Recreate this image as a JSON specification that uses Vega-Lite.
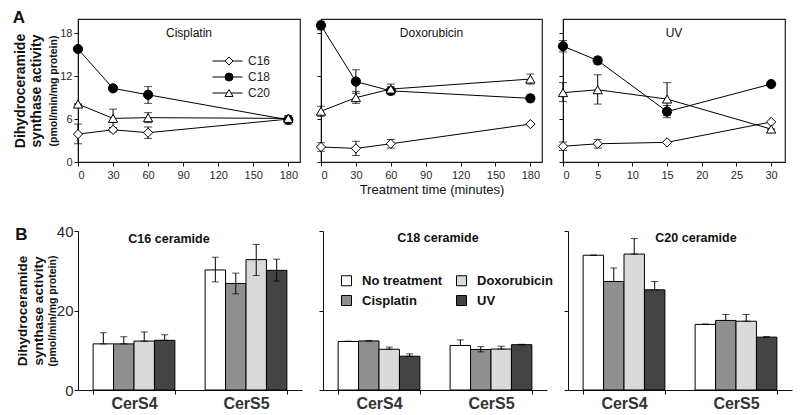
{
  "$schema": "https://vega.github.io/schema/vega-lite/v6.json",
  "padding": {"left": 12, "top": 9, "right": 5, "bottom": 0},
  "datasets": {
    "top": [
      {"d": "Cisplatin", "s": "C16", "t": 0, "v": 3.9, "lo": 2.55, "hi": 5.3},
      {"d": "Cisplatin", "s": "C16", "t": 30, "v": 4.5, "lo": 4.2, "hi": 4.8},
      {"d": "Cisplatin", "s": "C16", "t": 60, "v": 4.1, "lo": 3.3, "hi": 4.9},
      {"d": "Cisplatin", "s": "C16", "t": 180, "v": 6.0, "lo": 6.0, "hi": 6.0},
      {"d": "Cisplatin", "s": "C18", "t": 0, "v": 15.8, "lo": 15.8, "hi": 15.8},
      {"d": "Cisplatin", "s": "C18", "t": 30, "v": 10.3, "lo": 10.3, "hi": 10.3},
      {"d": "Cisplatin", "s": "C18", "t": 60, "v": 9.4, "lo": 8.2, "hi": 10.55},
      {"d": "Cisplatin", "s": "C18", "t": 180, "v": 5.9, "lo": 5.3, "hi": 6.5},
      {"d": "Cisplatin", "s": "C20", "t": 0, "v": 8.1, "lo": 8.1, "hi": 8.1},
      {"d": "Cisplatin", "s": "C20", "t": 30, "v": 6.1, "lo": 4.8, "hi": 7.4},
      {"d": "Cisplatin", "s": "C20", "t": 60, "v": 6.2, "lo": 5.5, "hi": 6.9},
      {"d": "Cisplatin", "s": "C20", "t": 180, "v": 6.1, "lo": 6.1, "hi": 6.1},
      {"d": "Doxorubicin", "s": "C16", "t": 0, "v": 2.1, "lo": 1.5, "hi": 2.7},
      {"d": "Doxorubicin", "s": "C16", "t": 30, "v": 1.9, "lo": 0.9, "hi": 2.9},
      {"d": "Doxorubicin", "s": "C16", "t": 60, "v": 2.55, "lo": 1.95, "hi": 3.15},
      {"d": "Doxorubicin", "s": "C16", "t": 180, "v": 5.3, "lo": 5.3, "hi": 5.3},
      {"d": "Doxorubicin", "s": "C18", "t": 0, "v": 19.1, "lo": 18.5, "hi": 19.7},
      {"d": "Doxorubicin", "s": "C18", "t": 30, "v": 11.25, "lo": 9.6, "hi": 12.9},
      {"d": "Doxorubicin", "s": "C18", "t": 60, "v": 9.95, "lo": 9.4, "hi": 10.5},
      {"d": "Doxorubicin", "s": "C18", "t": 180, "v": 8.9, "lo": 8.4, "hi": 9.4},
      {"d": "Doxorubicin", "s": "C20", "t": 0, "v": 7.1, "lo": 6.4, "hi": 7.8},
      {"d": "Doxorubicin", "s": "C20", "t": 30, "v": 9.0, "lo": 8.2, "hi": 9.85},
      {"d": "Doxorubicin", "s": "C20", "t": 60, "v": 10.2, "lo": 9.5, "hi": 10.9},
      {"d": "Doxorubicin", "s": "C20", "t": 180, "v": 11.6, "lo": 10.9, "hi": 12.3},
      {"d": "UV", "s": "C16", "t": 0, "v": 2.2, "lo": 1.6, "hi": 2.8},
      {"d": "UV", "s": "C16", "t": 5, "v": 2.55, "lo": 1.95, "hi": 3.15},
      {"d": "UV", "s": "C16", "t": 15, "v": 2.75, "lo": 2.75, "hi": 2.75},
      {"d": "UV", "s": "C16", "t": 30, "v": 5.6, "lo": 5.6, "hi": 5.6},
      {"d": "UV", "s": "C18", "t": 0, "v": 16.2, "lo": 15.4, "hi": 17.0},
      {"d": "UV", "s": "C18", "t": 5, "v": 14.2, "lo": 13.7, "hi": 14.7},
      {"d": "UV", "s": "C18", "t": 15, "v": 7.05, "lo": 6.2, "hi": 7.9},
      {"d": "UV", "s": "C18", "t": 30, "v": 10.9, "lo": 10.9, "hi": 10.9},
      {"d": "UV", "s": "C20", "t": 0, "v": 9.7, "lo": 8.45, "hi": 11.1},
      {"d": "UV", "s": "C20", "t": 5, "v": 10.1, "lo": 8.1, "hi": 12.2},
      {"d": "UV", "s": "C20", "t": 15, "v": 8.8, "lo": 6.5, "hi": 11.1},
      {"d": "UV", "s": "C20", "t": 30, "v": 4.6, "lo": 4.6, "hi": 4.6}
    ],
    "bars": [
      {"c": "C16", "g": "CerS4", "tr": "No treatment", "v": 11.6, "lo": 11.6, "hi": 14.4},
      {"c": "C16", "g": "CerS4", "tr": "Cisplatin", "v": 11.6, "lo": 11.6, "hi": 13.4},
      {"c": "C16", "g": "CerS4", "tr": "Doxorubicin", "v": 12.3, "lo": 12.3, "hi": 14.6},
      {"c": "C16", "g": "CerS4", "tr": "UV", "v": 12.5, "lo": 12.5, "hi": 13.9},
      {"c": "C16", "g": "CerS5", "tr": "No treatment", "v": 30.2, "lo": 27.2, "hi": 33.4},
      {"c": "C16", "g": "CerS5", "tr": "Cisplatin", "v": 26.8, "lo": 24.2, "hi": 29.4},
      {"c": "C16", "g": "CerS5", "tr": "Doxorubicin", "v": 32.8, "lo": 28.8, "hi": 36.6},
      {"c": "C16", "g": "CerS5", "tr": "UV", "v": 30.1, "lo": 27.4, "hi": 32.9},
      {"c": "C18", "g": "CerS4", "tr": "No treatment", "v": 12.2, "lo": 12.2, "hi": 12.3},
      {"c": "C18", "g": "CerS4", "tr": "Cisplatin", "v": 12.35, "lo": 12.35, "hi": 12.35},
      {"c": "C18", "g": "CerS4", "tr": "Doxorubicin", "v": 10.25, "lo": 10.25, "hi": 10.8},
      {"c": "C18", "g": "CerS4", "tr": "UV", "v": 8.5, "lo": 8.5, "hi": 9.1},
      {"c": "C18", "g": "CerS5", "tr": "No treatment", "v": 11.2, "lo": 11.2, "hi": 12.6},
      {"c": "C18", "g": "CerS5", "tr": "Cisplatin", "v": 10.2, "lo": 9.6, "hi": 10.9},
      {"c": "C18", "g": "CerS5", "tr": "Doxorubicin", "v": 10.3, "lo": 10.3, "hi": 11.0},
      {"c": "C18", "g": "CerS5", "tr": "UV", "v": 11.4, "lo": 11.4, "hi": 11.5},
      {"c": "C20", "g": "CerS4", "tr": "No treatment", "v": 33.9, "lo": 33.9, "hi": 33.9},
      {"c": "C20", "g": "CerS4", "tr": "Cisplatin", "v": 27.3, "lo": 27.3, "hi": 30.7},
      {"c": "C20", "g": "CerS4", "tr": "Doxorubicin", "v": 34.2, "lo": 34.2, "hi": 38.1},
      {"c": "C20", "g": "CerS4", "tr": "UV", "v": 25.2, "lo": 25.2, "hi": 27.3},
      {"c": "C20", "g": "CerS5", "tr": "No treatment", "v": 16.5, "lo": 16.5, "hi": 16.6},
      {"c": "C20", "g": "CerS5", "tr": "Cisplatin", "v": 17.5, "lo": 17.5, "hi": 19.0},
      {"c": "C20", "g": "CerS5", "tr": "Doxorubicin", "v": 17.3, "lo": 17.3, "hi": 19.0},
      {"c": "C20", "g": "CerS5", "tr": "UV", "v": 13.3, "lo": 13.3, "hi": 13.4}
    ]
  },
  "config": {
    "font": "Liberation Sans",
    "view": {"stroke": null},
    "axis": {"grid": false, "domainColor": "#111", "tickColor": "#111", "labelColor": "#2a2a2a", "titleColor": "#111", "tickSize": 4, "labelFont": "Liberation Sans", "titleFont": "Liberation Sans"},
    "title": {"font": "Liberation Sans", "color": "#111"}
  },
  "resolve": {"scale": {"fill": "independent", "shape": "independent", "color": "independent"}, "legend": {"fill": "independent", "shape": "independent", "color": "independent"}},
  "spacing": 27,
  "vconcat": [
    {
      "title": {"text": "A", "anchor": "start", "fontSize": 17, "fontWeight": "bold", "offset": 0, "dy": 9},
      "bounds": "flush",
      "spacing": 21,
      "resolve": {"scale": {"fill": "independent", "shape": "independent", "color": "independent"}, "legend": {"fill": "independent", "shape": "independent", "color": "independent"}},
      "hconcat": [
        {
          "width": 222, "height": 143,
          "view": {"stroke": "#222", "strokeWidth": 1.2},
          "title": {"text": "Cisplatin", "fontSize": 12, "fontWeight": "normal", "anchor": "middle", "frame": "group", "offset": -21},
          "data": {"name": "top"},
          "transform": [{"filter": "datum.d === 'Cisplatin'"}],
          "encoding": {"x": {"field": "t", "type": "quantitative", "scale": {"domain": [0, 190], "nice": false}, "axis": {"values": [0, 30, 60, 90, 120, 150, 180], "title": null, "labelFontSize": 11, "labelPadding": 3}}},
          "resolve": {"scale": {"y": "independent"}},
          "layer": [
            {
              "layer": [
                {"mark": {"type": "line", "strokeWidth": 1}, "encoding": {
                  "y": {"field": "v", "type": "quantitative", "scale": {"domain": [0, 20], "nice": false}, "axis": {"values": [0, 3, 6, 9, 12, 15, 18], "title": ["Dihydroceramide", "synthase activity"], "titleFontSize": 14, "titleFontWeight": "bold", "titleLineHeight": 16.5, "titlePadding": 16, "labelFontSize": 11, "labelPadding": 2}},
                  "color": {"field": "s", "type": "nominal", "scale": {"domain": ["C16", "C18", "C20", "C22"], "range": ["#000000", "#000000", "#000000", "#000000"]},
                    "legend": {"orient": "none", "legendX": 134, "legendY": 36, "title": null, "values": ["C16", "C18", "C20"], "symbolType": "stroke", "symbolSize": 900, "symbolStrokeWidth": 1, "clipHeight": 12, "labelOpacity": 0, "labelFontSize": 12, "rowPadding": 4, "padding": 0}}}},
                {"mark": {"type": "rule", "color": "#000", "strokeWidth": 1}, "encoding": {"y": {"field": "lo", "type": "quantitative"}, "y2": {"field": "hi"}}},
                {"mark": {"type": "tick", "orient": "horizontal", "color": "#000", "size": 8, "thickness": 1}, "encoding": {"y": {"field": "lo", "type": "quantitative"}}},
                {"mark": {"type": "tick", "orient": "horizontal", "color": "#000", "size": 8, "thickness": 1}, "encoding": {"y": {"field": "hi", "type": "quantitative"}}},
                {"mark": {"type": "point", "filled": true, "stroke": "#000", "strokeWidth": 1, "size": 85, "opacity": 1},
                 "encoding": {
                   "y": {"field": "v", "type": "quantitative"},
                   "shape": {"field": "s", "type": "nominal", "scale": {"domain": ["C16", "C18", "C20"], "range": ["diamond", "circle", "triangle-up"]},
                     "legend": {"orient": "none", "legendX": 145, "legendY": 36, "title": null, "symbolSize": 64, "clipHeight": 12, "labelFontSize": 12, "labelOffset": 13, "labelColor": "#222", "rowPadding": 4, "padding": 0, "symbolStrokeColor": "#000", "symbolStrokeWidth": 1,
                       "encoding": {"symbols": {"stroke": {"value": "#000"}, "strokeWidth": {"value": 1}}}}},
                   "fill": {"field": "s", "type": "nominal", "scale": {"domain": ["C16", "C18", "C20"], "range": ["#ffffff", "#000000", "#ffffff"]},
                     "legend": {"orient": "none", "legendX": 145, "legendY": 36, "title": null, "symbolSize": 64, "clipHeight": 12, "labelFontSize": 12, "labelOffset": 13, "labelColor": "#222", "rowPadding": 4, "padding": 0, "symbolStrokeColor": "#000", "symbolStrokeWidth": 1,
                       "encoding": {"symbols": {"stroke": {"value": "#000"}, "strokeWidth": {"value": 1}}}}}
                 }}
              ]
            },
            {"mark": {"type": "point", "opacity": 0}, "encoding": {"y": {"field": "v", "type": "quantitative", "scale": {"domain": [0, 20], "nice": false}, "axis": {"orient": "left", "title": "(pmol/min/mg protein)", "titleFontSize": 10.5, "titleFontWeight": "bold", "labels": false, "ticks": false, "domain": false, "titlePadding": 20}}}}
          ]
        },
        {
          "width": 221, "height": 143,
          "view": {"stroke": "#222", "strokeWidth": 1.2},
          "title": {"text": "Doxorubicin", "fontSize": 12, "fontWeight": "normal", "anchor": "middle", "frame": "group", "offset": -21},
          "data": {"name": "top"},
          "transform": [{"filter": "datum.d === 'Doxorubicin'"}],
          "encoding": {"x": {"field": "t", "type": "quantitative", "scale": {"domain": [0, 190], "nice": false}, "axis": {"values": [0, 30, 60, 90, 120, 150, 180], "title": "Treatment time (minutes)", "titleFontSize": 13, "titleFontWeight": "normal", "titlePadding": 3, "labelFontSize": 11, "labelPadding": 3}}},
          "layer": [
            {"mark": {"type": "line", "color": "#000", "strokeWidth": 1}, "encoding": {"y": {"field": "v", "type": "quantitative", "scale": {"domain": [0, 20], "nice": false}, "axis": {"values": [0, 3, 6, 9, 12, 15, 18], "title": null, "labels": false}}, "detail": {"field": "s"}}},
            {"mark": {"type": "rule", "color": "#000", "strokeWidth": 1}, "encoding": {"y": {"field": "lo", "type": "quantitative"}, "y2": {"field": "hi"}}},
            {"mark": {"type": "tick", "orient": "horizontal", "color": "#000", "size": 8, "thickness": 1}, "encoding": {"y": {"field": "lo", "type": "quantitative"}}},
            {"mark": {"type": "tick", "orient": "horizontal", "color": "#000", "size": 8, "thickness": 1}, "encoding": {"y": {"field": "hi", "type": "quantitative"}}},
            {"mark": {"type": "point", "filled": true, "stroke": "#000", "strokeWidth": 1, "size": 85, "opacity": 1},
             "encoding": {
               "y": {"field": "v", "type": "quantitative"},
               "shape": {"field": "s", "type": "nominal", "scale": {"domain": ["C16", "C18", "C20"], "range": ["diamond", "circle", "triangle-up"]}, "legend": null},
               "fill": {"field": "s", "type": "nominal", "scale": {"domain": ["C16", "C18", "C20"], "range": ["#ffffff", "#000000", "#ffffff"]}, "legend": null}
             }}
          ]
        },
        {
          "width": 222, "height": 143,
          "view": {"stroke": "#222", "strokeWidth": 1.2},
          "title": {"text": "UV", "fontSize": 12, "fontWeight": "normal", "anchor": "middle", "frame": "group", "offset": -21},
          "data": {"name": "top"},
          "transform": [{"filter": "datum.d === 'UV'"}],
          "encoding": {"x": {"field": "t", "type": "quantitative", "scale": {"domain": [0, 32], "nice": false}, "axis": {"values": [0, 5, 10, 15, 20, 25, 30], "title": null, "labelFontSize": 11, "labelPadding": 3}}},
          "layer": [
            {"mark": {"type": "line", "color": "#000", "strokeWidth": 1}, "encoding": {"y": {"field": "v", "type": "quantitative", "scale": {"domain": [0, 20], "nice": false}, "axis": {"values": [0, 3, 6, 9, 12, 15, 18], "title": null, "labels": false}}, "detail": {"field": "s"}}},
            {"mark": {"type": "rule", "color": "#000", "strokeWidth": 1}, "encoding": {"y": {"field": "lo", "type": "quantitative"}, "y2": {"field": "hi"}}},
            {"mark": {"type": "tick", "orient": "horizontal", "color": "#000", "size": 8, "thickness": 1}, "encoding": {"y": {"field": "lo", "type": "quantitative"}}},
            {"mark": {"type": "tick", "orient": "horizontal", "color": "#000", "size": 8, "thickness": 1}, "encoding": {"y": {"field": "hi", "type": "quantitative"}}},
            {"mark": {"type": "point", "filled": true, "stroke": "#000", "strokeWidth": 1, "size": 85, "opacity": 1},
             "encoding": {
               "y": {"field": "v", "type": "quantitative"},
               "shape": {"field": "s", "type": "nominal", "scale": {"domain": ["C16", "C18", "C20"], "range": ["diamond", "circle", "triangle-up"]}, "legend": null},
               "fill": {"field": "s", "type": "nominal", "scale": {"domain": ["C16", "C18", "C20"], "range": ["#ffffff", "#000000", "#ffffff"]}, "legend": null}
             }}
          ]
        }
      ]
    },
    {
      "title": {"text": "B", "anchor": "start", "fontSize": 17, "fontWeight": "bold", "offset": 0, "dy": 20},
      "bounds": "flush",
      "spacing": 21,
      "resolve": {"scale": {"fill": "independent", "shape": "independent"}, "legend": {"fill": "independent", "shape": "independent"}},
      "hconcat": [
        {
          "width": 224, "height": 159,
          "title": {"text": "C16 ceramide", "fontSize": 12.5, "fontWeight": "bold", "anchor": "middle", "frame": "group", "offset": -21, "dx": -21},
          "data": {"name": "bars"},
          "transform": [{"filter": "datum.c === 'C16'"}],
          "encoding": {
            "x": {"field": "g", "type": "nominal", "scale": {"paddingInner": 0.27, "paddingOuter": 0.135}, "axis": {"title": null, "labelAngle": 0, "labelFontSize": 16, "labelFontWeight": "bold", "labelColor": "#333", "tickBand": "extent", "labelPadding": 1}},
            "xOffset": {"field": "tr", "type": "nominal", "sort": ["No treatment", "Cisplatin", "Doxorubicin", "UV"], "scale": {"paddingInner": 0, "paddingOuter": 0}}
          },
          "resolve": {"scale": {"y": "independent"}},
          "layer": [
            {
              "layer": [
                {"mark": {"type": "bar", "stroke": "#000", "strokeWidth": 1}, "encoding": {
                  "y": {"field": "v", "type": "quantitative", "scale": {"domain": [0, 40], "nice": false}, "axis": {"values": [0, 10, 20, 30, 40], "title": ["Dihydroceramide", "synthase activity"], "titleFontSize": 13.5, "titleFontWeight": "bold", "titleLineHeight": 16, "titlePadding": 11, "labelFontSize": 15, "labelPadding": 1}},
                  "fill": {"field": "tr", "type": "nominal", "scale": {"domain": ["No treatment", "Cisplatin", "Doxorubicin", "UV"], "range": ["#ffffff", "#8f8f8f", "#dadada", "#444444"]}, "legend": null}}},
                {"mark": {"type": "rule", "color": "#000", "strokeWidth": 1}, "encoding": {"y": {"field": "lo", "type": "quantitative"}, "y2": {"field": "hi"}}},
                {"mark": {"type": "tick", "orient": "horizontal", "color": "#000", "size": 7, "thickness": 1}, "encoding": {"y": {"field": "lo", "type": "quantitative"}}},
                {"mark": {"type": "tick", "orient": "horizontal", "color": "#000", "size": 7, "thickness": 1}, "encoding": {"y": {"field": "hi", "type": "quantitative"}}}
              ]
            },
            {"mark": {"type": "point", "opacity": 0}, "encoding": {"y": {"field": "v", "type": "quantitative", "scale": {"domain": [0, 40], "nice": false}, "axis": {"orient": "left", "title": "(pmol/min/mg protein)", "titleFontSize": 10.5, "titleFontWeight": "bold", "labels": false, "ticks": false, "domain": false, "titlePadding": 21}}}}
          ]
        },
        {
          "width": 224, "height": 159,
          "title": {"text": "C18 ceramide", "fontSize": 12.5, "fontWeight": "bold", "anchor": "middle", "frame": "group", "offset": -14, "dx": 3},
          "data": {"name": "bars"},
          "transform": [{"filter": "datum.c === 'C18'"}],
          "encoding": {
            "x": {"field": "g", "type": "nominal", "scale": {"paddingInner": 0.27, "paddingOuter": 0.135}, "axis": {"title": null, "labelAngle": 0, "labelFontSize": 16, "labelFontWeight": "bold", "labelColor": "#333", "tickBand": "extent", "labelPadding": 1}},
            "xOffset": {"field": "tr", "type": "nominal", "sort": ["No treatment", "Cisplatin", "Doxorubicin", "UV"], "scale": {"paddingInner": 0, "paddingOuter": 0}}
          },
          "layer": [
            {"mark": {"type": "bar", "stroke": "#000", "strokeWidth": 1}, "encoding": {
              "y": {"field": "v", "type": "quantitative", "scale": {"domain": [0, 40], "nice": false}, "axis": {"values": [0, 10, 20, 30, 40], "title": null, "labels": false}},
              "fill": {"field": "tr", "type": "nominal", "scale": {"domain": ["No treatment", "Cisplatin", "Doxorubicin", "UV"], "range": ["#ffffff", "#8f8f8f", "#dadada", "#444444"]},
                "legend": {"orient": "none", "legendX": 17, "legendY": 43, "title": null, "columns": 2, "symbolType": "square", "symbolSize": 100, "symbolStrokeColor": "#000", "symbolStrokeWidth": 1, "labelFontSize": 13, "labelFontWeight": "bold", "labelColor": "#111", "labelOffset": 9, "columnPadding": 11, "rowPadding": 5, "padding": 0}}}},
            {"mark": {"type": "rule", "color": "#000", "strokeWidth": 1}, "encoding": {"y": {"field": "lo", "type": "quantitative"}, "y2": {"field": "hi"}}},
            {"mark": {"type": "tick", "orient": "horizontal", "color": "#000", "size": 7, "thickness": 1}, "encoding": {"y": {"field": "lo", "type": "quantitative"}}},
            {"mark": {"type": "tick", "orient": "horizontal", "color": "#000", "size": 7, "thickness": 1}, "encoding": {"y": {"field": "hi", "type": "quantitative"}}}
          ]
        },
        {
          "width": 224, "height": 159,
          "title": {"text": "C20 ceramide", "fontSize": 12.5, "fontWeight": "bold", "anchor": "middle", "frame": "group", "offset": -14, "dx": 16},
          "data": {"name": "bars"},
          "transform": [{"filter": "datum.c === 'C20'"}],
          "encoding": {
            "x": {"field": "g", "type": "nominal", "scale": {"paddingInner": 0.27, "paddingOuter": 0.135}, "axis": {"title": null, "labelAngle": 0, "labelFontSize": 16, "labelFontWeight": "bold", "labelColor": "#333", "tickBand": "extent", "labelPadding": 1}},
            "xOffset": {"field": "tr", "type": "nominal", "sort": ["No treatment", "Cisplatin", "Doxorubicin", "UV"], "scale": {"paddingInner": 0, "paddingOuter": 0}}
          },
          "layer": [
            {"mark": {"type": "bar", "stroke": "#000", "strokeWidth": 1}, "encoding": {
              "y": {"field": "v", "type": "quantitative", "scale": {"domain": [0, 40], "nice": false}, "axis": {"values": [0, 10, 20, 30, 40], "title": null, "labels": false}},
              "fill": {"field": "tr", "type": "nominal", "scale": {"domain": ["No treatment", "Cisplatin", "Doxorubicin", "UV"], "range": ["#ffffff", "#8f8f8f", "#dadada", "#444444"]}, "legend": null}}},
            {"mark": {"type": "rule", "color": "#000", "strokeWidth": 1}, "encoding": {"y": {"field": "lo", "type": "quantitative"}, "y2": {"field": "hi"}}},
            {"mark": {"type": "tick", "orient": "horizontal", "color": "#000", "size": 7, "thickness": 1}, "encoding": {"y": {"field": "lo", "type": "quantitative"}}},
            {"mark": {"type": "tick", "orient": "horizontal", "color": "#000", "size": 7, "thickness": 1}, "encoding": {"y": {"field": "hi", "type": "quantitative"}}}
          ]
        }
      ]
    }
  ]
}
